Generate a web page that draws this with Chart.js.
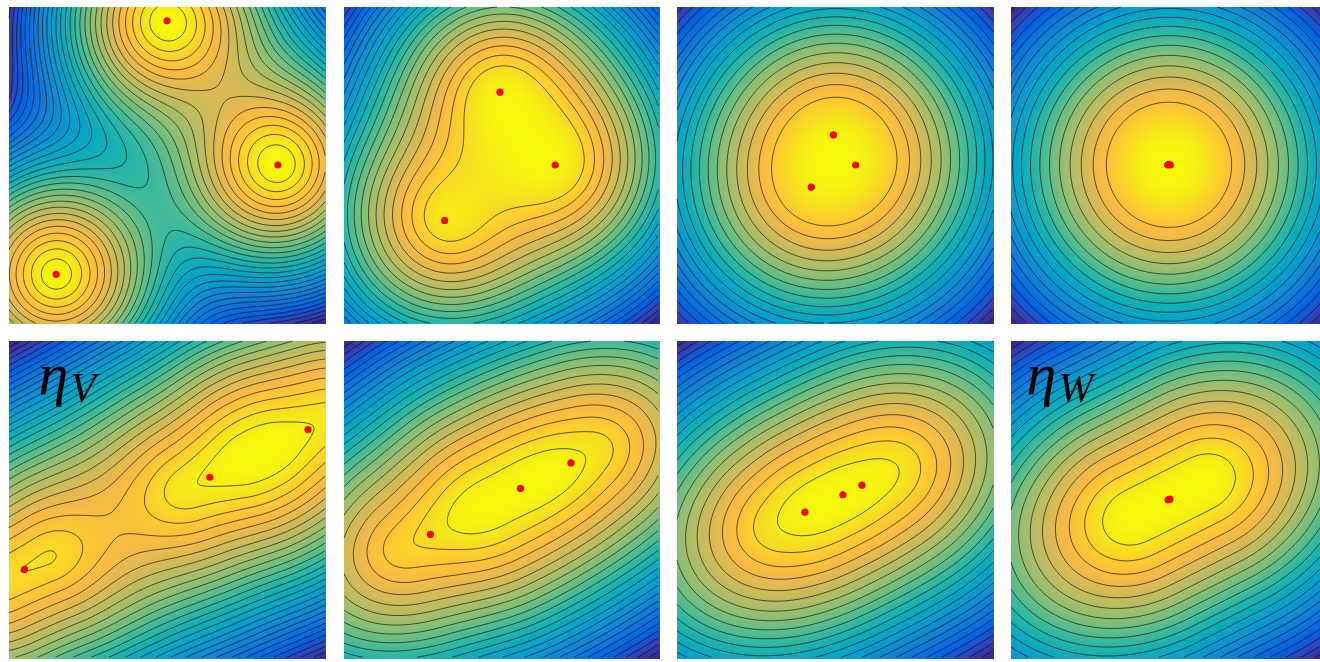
<!DOCTYPE html>
<html><head><meta charset="utf-8">
<script src="https://cdn.jsdelivr.net/npm/chart.js@4.4.1/dist/chart.umd.min.js"></script>
<style>
html,body{margin:0;padding:0;background:#fff;width:1320px;height:662px;overflow:hidden;position:relative}
.panel{position:absolute}
canvas{display:block}
</style></head><body>
<script>
// Particle positions (domain [-1,1] x [-1,1], y up) at four successive times.
const isoStep1 = [[0.00, 0.91], [0.70, 0.00], [-0.70, -0.69]];
const isoStep2 = [[-0.01, 0.46], [0.34, 0.00], [-0.36, -0.35]];
const isoStep3 = [[-0.01, 0.19], [0.13, 0.00], [-0.15, -0.14]];
const isoStep4 = [[-0.008, 0.00], [0.000, 0.004], [0.008, 0.00]];
const anisoStep1 = [[-0.90, -0.44], [0.27, 0.14], [0.89, 0.44]];
const anisoStep2 = [[-0.45, -0.22], [0.12, 0.07], [0.44, 0.23]];
const anisoStep3 = [[-0.19, -0.08], [0.05, 0.03], [0.17, 0.09]];
const anisoStep4 = [[-0.006, -0.003], [0.000, 0.000], [0.006, 0.003]];
const panelLabels = [null, null, null, null, ['η', 'V'], null, null, ['η', 'W']];

// Interaction metrics: principal direction (slope 1/2), stretch along / across it.
const isoMetric = { along: 1.0, across: 1.0 };
const anisoMetric = { along: 1.12, across: 0.89 };
const axisAngle = Math.atan2(1, 2);

// MATLAB-style parula colour map
const parula = [
  [0.2081,0.1663,0.5292],[0.1959,0.2645,0.7279],[0.0117,0.3875,0.8820],[0.0498,0.4586,0.8641],
  [0.0793,0.5200,0.8312],[0.0343,0.5966,0.8199],[0.0228,0.6535,0.7768],[0.0843,0.6928,0.7062],
  [0.2178,0.7250,0.6193],[0.3953,0.7459,0.5244],[0.5709,0.7485,0.4494],[0.7184,0.7411,0.3905],
  [0.8507,0.7299,0.3360],[0.9739,0.7314,0.2666],[0.9880,0.8066,0.1794],[0.9599,0.9218,0.0948],
  [0.9763,0.9831,0.0538]
];
const parPos = parula.map((_, i) => i === parula.length - 1 ? 1 : (i * 4) / 63);
function colourAt(t) {
  t = Math.pow(Math.max(0, Math.min(1, t)), 1.2);
  let k = 0;
  while (k < parPos.length - 2 && t > parPos[k + 1]) k++;
  const u = (t - parPos[k]) / (parPos[k + 1] - parPos[k]);
  const a = parula[k], b = parula[k + 1];
  return [0, 1, 2].map(c => Math.round(255 * (a[c] + (b[c] - a[c]) * u)));
}

// seg: half-length of the elongated core along the principal direction
const panels = [
  { pts: isoStep1, metric: isoMetric, seg: 0, left: 5, top: 3, w: 324, h: 324, s: 0.08, tau: 0.34, levels: 30, phase: 1.0 },
  { pts: isoStep2, metric: isoMetric, seg: 0, left: 340, top: 3, w: 323, h: 324, s: 0.15, tau: 0.30, levels: 26, phase: 2.0 },
  { pts: isoStep3, metric: isoMetric, seg: 0, left: 673, top: 3, w: 324, h: 324, s: 0.25, tau: 0.30, levels: 22, phase: 2.5 },
  { pts: isoStep4, metric: isoMetric, seg: 0, left: 1007, top: 3, w: 324, h: 324, s: 0.30, tau: 0.30, levels: 20, phase: 2.55 },
  { pts: anisoStep1, metric: anisoMetric, seg: 0.14, left: 5, top: 337, w: 324, h: 325, s: 0.06, tau: 0.28, levels: 30, phase: 1.0 },
  { pts: anisoStep2, metric: anisoMetric, seg: 0.17, left: 340, top: 337, w: 323, h: 325, s: 0.08, tau: 0.25, levels: 26, phase: 1.0 },
  { pts: anisoStep3, metric: anisoMetric, seg: 0.21, left: 673, top: 337, w: 324, h: 325, s: 0.10, tau: 0.25, levels: 24, phase: 1.0 },
  { pts: anisoStep4, metric: anisoMetric, seg: 0.21, left: 1007, top: 337, w: 324, h: 325, s: 0.10, tau: 0.25, levels: 22, phase: 1.0 }
];

// Smooth maximum of per-particle profiles -((s^2 + d^2)^0.7 - s^1.4),
// d = metric distance to a short segment through the particle along the principal axis.
function potential(xv, yv, spec) {
  const ux = Math.cos(axisAngle), uy = Math.sin(axisAngle);
  const s2 = spec.s * spec.s, base = Math.pow(s2, 0.7), k2 = 0.0016;
  const vals = [];
  let m = -Infinity;
  for (const [px, py] of spec.pts) {
    const dx = xv - px, dy = yv - py;
    const du = (dx * ux + dy * uy) / spec.metric.along;
    const dv = (-dx * uy + dy * ux) / spec.metric.across;
    let hu = Math.abs(du);
    if (spec.seg > 0) { const a = hu - spec.seg; hu = 0.5 * (a + Math.sqrt(a * a + k2)); }
    const v = -(Math.pow(s2 + hu * hu + dv * dv, 0.7) - base) / spec.tau;
    vals.push(v); if (v > m) m = v;
  }
  let sum = 0; for (const v of vals) sum += Math.exp(v - m);
  return spec.tau * (m + Math.log(sum));
}

const SEG = [[], [[3,0]], [[0,1]], [[3,1]], [[1,2]], [[3,0],[1,2]], [[0,2]], [[3,2]],
             [[2,3]], [[0,2]], [[0,1],[2,3]], [[1,2]], [[1,3]], [[0,1]], [[0,3]], []];

function fieldPlugin(spec, idx) {
  return {
    id: 'field' + idx,
    beforeDatasetsDraw(chart) {
      const { ctx, chartArea: a, scales: { x, y } } = chart;
      const w = Math.round(a.right - a.left), h = Math.round(a.bottom - a.top);
      const F = new Float64Array(w * h);
      let fmin = Infinity, fmax = -Infinity;
      for (let j = 0; j < h; j++) {
        const yv = y.getValueForPixel(a.top + j + 0.5);
        for (let i = 0; i < w; i++) {
          const xv = x.getValueForPixel(a.left + i + 0.5);
          const f = potential(xv, yv, spec);
          F[j * w + i] = f; if (f < fmin) fmin = f; if (f > fmax) fmax = f;
        }
      }
      const off = document.createElement('canvas'); off.width = w; off.height = h;
      const octx = off.getContext('2d'); const img = octx.createImageData(w, h);
      for (let p = 0; p < w * h; p++) {
        const c = colourAt((F[p] - fmin) / (fmax - fmin));
        img.data[4 * p] = c[0]; img.data[4 * p + 1] = c[1]; img.data[4 * p + 2] = c[2]; img.data[4 * p + 3] = 255;
      }
      octx.putImageData(img, 0, 0);
      ctx.save();
      ctx.drawImage(off, a.left, a.top);
      // iso-lines by marching squares
      const step = (fmax - fmin) / spec.levels;
      const s = 2;
      ctx.beginPath();
      for (let L = fmax - spec.phase * step; L > fmin; L -= step) {
        for (let j = 0; j + s < h; j += s) {
          for (let i = 0; i + s < w; i += s) {
            const v0 = F[j * w + i], v1 = F[j * w + i + s], v2 = F[(j + s) * w + i + s], v3 = F[(j + s) * w + i];
            const c = (v0 > L ? 1 : 0) | (v1 > L ? 2 : 0) | (v2 > L ? 4 : 0) | (v3 > L ? 8 : 0);
            if (c === 0 || c === 15) continue;
            const ex = e => {
              if (e === 0) return [i + s * (L - v0) / (v1 - v0), j];
              if (e === 1) return [i + s, j + s * (L - v1) / (v2 - v1)];
              if (e === 2) return [i + s * (L - v3) / (v2 - v3), j + s];
              return [i, j + s * (L - v0) / (v3 - v0)];
            };
            for (const [e1, e2] of SEG[c]) {
              const p1 = ex(e1), p2 = ex(e2);
              ctx.moveTo(a.left + p1[0] + 0.5, a.top + p1[1] + 0.5);
              ctx.lineTo(a.left + p2[0] + 0.5, a.top + p2[1] + 0.5);
            }
          }
        }
      }
      ctx.strokeStyle = 'rgba(10,10,10,0.8)';
      ctx.lineWidth = 0.8;
      ctx.stroke();
      ctx.restore();
    },
    afterDraw(chart) {
      const lab = panelLabels[idx];
      if (!lab) return;
      const { ctx, chartArea: a } = chart;
      ctx.save();
      ctx.fillStyle = '#000';
      ctx.textBaseline = 'alphabetic';
      const dx = lab[1] === 'V' ? 30 : 16;
      ctx.font = 'italic 60px "Liberation Serif"';
      ctx.fillText(lab[0], a.left + dx, a.top + 53);
      const ew = ctx.measureText(lab[0]).width;
      ctx.font = 'italic 42px "Liberation Serif"';
      ctx.fillText(lab[1], a.left + dx + ew + 2, a.top + 61);
      ctx.restore();
    }
  };
}

panels.forEach((spec, idx) => {
  const div = document.createElement('div');
  div.className = 'panel';
  div.style.left = spec.left + 'px'; div.style.top = spec.top + 'px';
  const cv = document.createElement('canvas');
  cv.width = spec.w; cv.height = spec.h;
  cv.style.width = spec.w + 'px'; cv.style.height = spec.h + 'px';
  div.appendChild(cv); document.body.appendChild(div);
  new Chart(cv.getContext('2d'), {
    type: 'scatter',
    data: { datasets: [{ data: spec.pts.map(([px, py]) => ({ x: px, y: py })),
      backgroundColor: '#ff0000', borderWidth: 0, pointRadius: 3.6, pointHoverRadius: 3.6 }] },
    options: {
      responsive: false, animation: false, events: [],
      layout: { padding: 0 },
      plugins: { legend: { display: false }, tooltip: { enabled: false } },
      scales: {
        x: { type: 'linear', min: -1, max: 1, display: false },
        y: { type: 'linear', min: -1, max: 1, display: false }
      }
    },
    plugins: [fieldPlugin(spec, idx)]
  });
});
</script>
</body></html>
